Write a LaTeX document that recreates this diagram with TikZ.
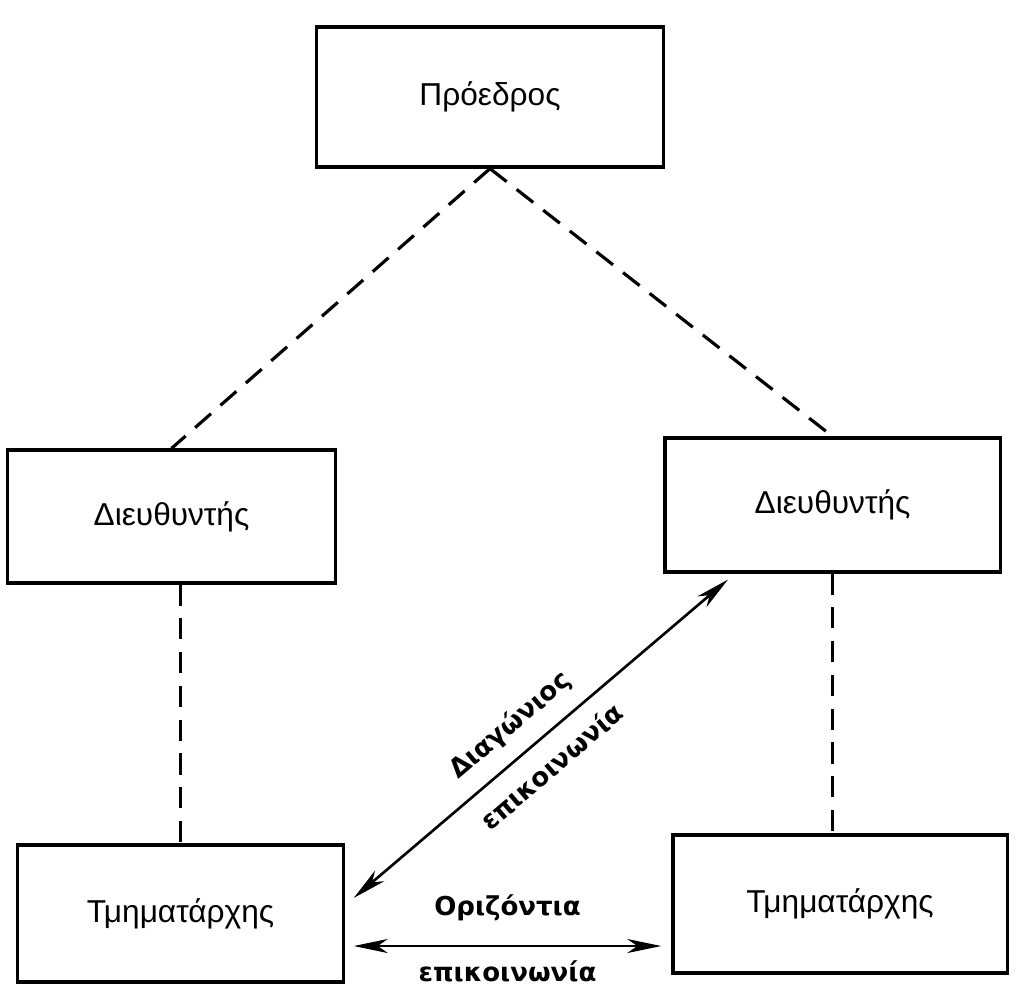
\documentclass[tikz,border=0pt]{standalone}
\usepackage{fontspec}
\setmainfont{Liberation Sans}
\newfontfamily\labfont{DejaVu Sans}
\usetikzlibrary{arrows.meta}

\begin{document}
\begin{tikzpicture}[x=0.01cm,y=-0.01cm,
  post/.style={draw,line width=0.9pt,minimum height=1.36cm,inner sep=0pt,
    font=\fontsize{9}{11}\selectfont},
  chain/.style={line width=0.9pt,dash pattern=on 6pt off 3.6pt},
  talk/.style={line width=0.75pt,
    {Stealth[length=3.4mm,width=1.4mm,inset=1mm]}-{Stealth[length=3.4mm,width=1.4mm,inset=1mm]}},
  lab/.style={font=\labfont\bfseries\fontsize{7.4}{8}\selectfont,inner sep=1pt}]
\useasboundingbox (0,0) rectangle (1028,986);

\node[post,minimum width=3.46cm,minimum height=1.40cm] (pres) at (490,97) {Πρόεδρος};
\node[post,minimum width=3.27cm,minimum height=1.33cm] (dirL) at (171.5,516.5) {Διευθυντής};
\node[post,minimum width=3.35cm,minimum height=1.34cm] (dirR) at (832.5,505) {Διευθυντής};
\node[post,minimum width=3.25cm,minimum height=1.37cm] (headL) at (180.5,913.5) {Τμηματάρχης};
\node[post,minimum width=3.34cm,minimum height=1.38cm] (headR) at (840,904) {Τμηματάρχης};

\draw[chain] (pres.south) -- (dirL.north);
\draw[chain] (pres.south) -- (dirR.north);
\draw[chain] (headL.north |- dirL.south) -- (headL.north);
\draw[chain] (dirR.south) -- (dirR.south |- headR.north);

\draw[talk] ([xshift=.09cm,yshift=.155cm]headL.east) -- ([xshift=-1.045cm,yshift=-.06cm]dirR.south)
  node[lab,pos=.47,sloped,above=.12cm] {Διαγώνιος}
  node[lab,pos=.48,sloped,below=.12cm] {επικοινωνία};

\coordinate (hzL) at ([xshift=.09cm,yshift=-.325cm]headL.east);
\coordinate (hzR) at ([xshift=-.1cm]hzL -| headR.west);
\draw[talk] (hzL) -- (hzR)
  node[lab,midway,above=.2cm] {Οριζόντια}
  node[lab,midway,below=.1cm] {επικοινωνία};
\end{tikzpicture}
\end{document}
